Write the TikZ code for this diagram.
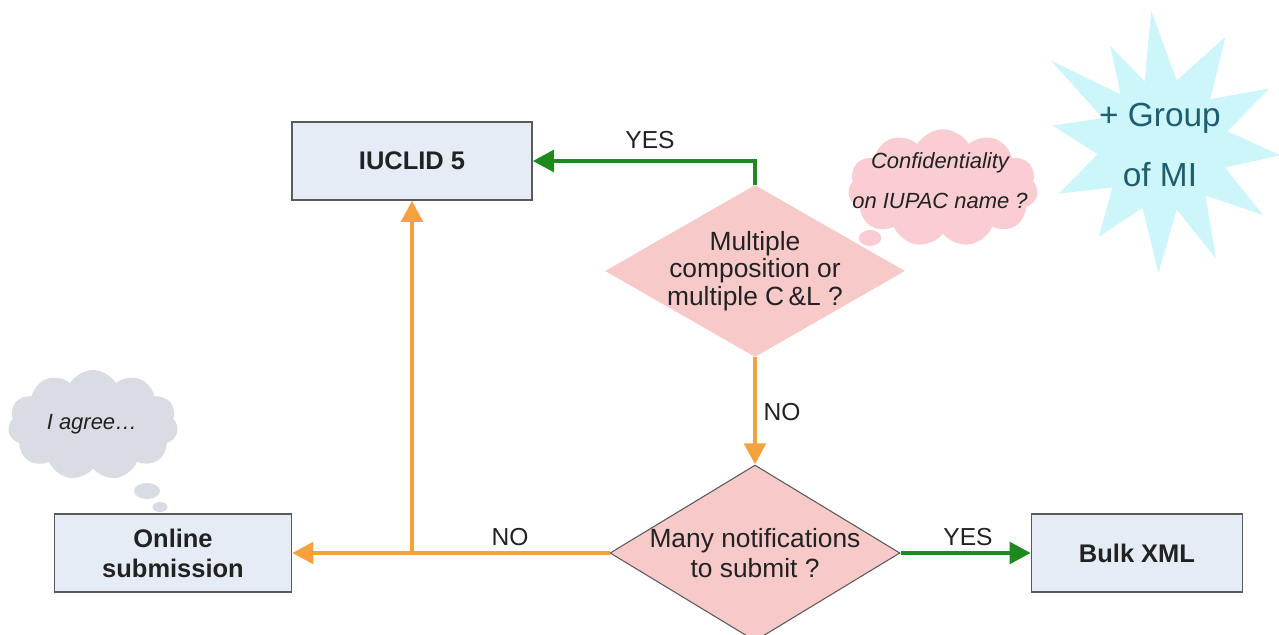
\documentclass[tikz,border=0pt]{standalone}
\usepackage{fontspec}
\setmainfont{Liberation Sans}
\usetikzlibrary{shapes.geometric,shapes.symbols,arrows.meta}
\definecolor{boxfill}{HTML}{E6ECF5}
\definecolor{boxline}{HTML}{5A5A5A}
\definecolor{pinkd}{HTML}{F8C9C9}
\definecolor{greenl}{HTML}{1E8A1E}
\definecolor{orangel}{HTML}{F4A23E}
\definecolor{graycloud}{HTML}{D9DDE3}
\definecolor{pinkcloud}{HTML}{F9CDD1}
\definecolor{starfill}{HTML}{CCF6FA}
\definecolor{startext}{HTML}{1F5E6E}
\definecolor{txt}{HTML}{222222}
\tikzset{
  procbox/.style={draw=boxline, line width=0.8pt, fill=boxfill, minimum height=1.56cm, inner sep=2pt, align=center, font=\fontsize{14.5}{17}\selectfont\bfseries, text=txt},
  decision/.style={diamond, fill=pinkd, inner sep=0pt},
  dtext/.style={align=center, font=\fontsize{15}{15.8}\selectfont, text=txt},
  yesarrow/.style={draw=greenl, line width=2.8pt, -{Triangle[length=12pt,width=12pt]}},
  noarrow/.style={draw=orangel, line width=2.8pt, -{Triangle[length=12pt,width=12pt]}},
  lbl/.style={font=\fontsize{14}{16}\selectfont, text=txt},
  thought/.style={cloud, cloud puffs=11, cloud puff arc=120, aspect=1.6, inner sep=0pt, align=center},
}
\begin{document}
\begin{tikzpicture}[x=0.02cm, y=0.02cm]
\useasboundingbox (0,0) rectangle (1279,-635);
\fill[white] (0,0) rectangle (1279,-635);
% starburst
\begin{scope}[shift={(1163,-145)}]
\fill[starfill] (95:135) -- (78:66) -- (60:125) -- (44:66) -- (28:120) -- (12:66)
  -- (-5:118) -- (-20:66) -- (-35:122) -- (-50:66) -- (-65:125) -- (-78:66)
  -- (-92:128) -- (-108:66) -- (-125:112) -- (-140:66) -- (-155:115) -- (-172:66)
  -- (170:112) -- (156:66) -- (143:140) -- (130:66) -- (118:112) -- (106:66) -- cycle;
\end{scope}
\node[align=center, font=\fontsize{19}{34}\selectfont, text=startext] (star) at (1160,-145) {+ Group\\of MI};
% clouds
\node[thought, fill=graycloud, minimum width=3.4cm, minimum height=2.2cm] (agree) at (93,-425) {};
\node[font=\fontsize{12.5}{14}\selectfont\itshape, text=txt] (agreet) at (92,-424) {I agree\ldots};
\node[ellipse, fill=graycloud, minimum width=0.52cm, minimum height=0.32cm, inner sep=0pt] (ab1) at (147,-491) {};
\node[ellipse, fill=graycloud, minimum width=0.3cm, minimum height=0.2cm, inner sep=0pt] (ab2) at (160,-507) {};
\node[thought, fill=pinkcloud, minimum width=3.8cm, minimum height=2.35cm] (conf) at (943,-188) {};
\node[ellipse, fill=pinkcloud, minimum width=0.45cm, minimum height=0.32cm, inner sep=0pt] (cb1) at (870,-238) {};
\node[align=center, font=\fontsize{12.5}{22.7}\selectfont\itshape, text=txt] (conft) at (940,-181) {Confidentiality\\on IUPAC name ?};
% boxes
\node[procbox, minimum width=4.8cm] (iuclid) at (412,-161) {IUCLID 5};
\node[procbox, minimum width=4.74cm] (online) at (173,-553) {Online\\submission};
\node[procbox, minimum width=4.22cm] (bulk) at (1137,-553) {Bulk XML};
% decisions
\node[decision, minimum width=6cm, minimum height=3.44cm] (d1) at (755,-271) {};
\node[dtext] (d1t) at (d1.center) {Multiple\\composition or\\multiple C\,\&L ?};
\node[decision, draw=boxline, line width=0.6pt, minimum width=5.8cm, minimum height=3.52cm] (d2) at (755,-553) {};
\node[dtext, font=\fontsize{15}{17}\selectfont] (d2t) at (d2.center) {Many notifications\\to submit ?};
% connectors
\draw[yesarrow] (d1.north) |- (iuclid.east);
\node[lbl] (yes1) at (650,-140) {YES};
\draw[noarrow] (d1.south) -- (d2.north);
\node[lbl] (no1) at (782,-412) {NO};
\coordinate (j) at (iuclid.south |- d2.west);
\draw[noarrow] (d2.west) -- (online.east);
\draw[noarrow] (j) -- (iuclid.south);
\node[lbl] (no2) at (510,-537) {NO};
\draw[yesarrow] (d2.east) -- (bulk.west);
\node[lbl] (yes2) at (968,-537) {YES};
\end{tikzpicture}
\end{document}
